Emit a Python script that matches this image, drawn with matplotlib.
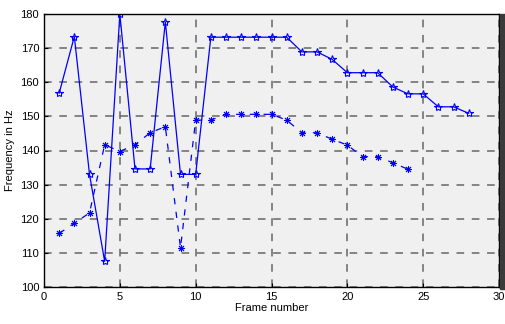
import numpy as np
import matplotlib.pyplot as plt
from matplotlib.patches import Rectangle

plt.rcParams['font.family'] = ['Liberation Sans', 'DejaVu Sans']

# pitch track for each frame
frames_a = np.arange(1, 29)
freq_a = [156.8, 173.4, 133.0, 107.5, 180.0, 134.6, 134.6, 177.7, 133.0, 133.0,
          173.2, 173.2, 173.2, 173.2, 173.2, 173.2, 168.9, 168.9, 166.7, 162.8,
          162.8, 162.8, 158.6, 156.6, 156.6, 152.8, 152.8, 150.9]

frames_b = np.arange(1, 25)
freq_b = [115.7, 118.7, 121.7, 141.7, 139.7, 141.7, 145.2, 147.0, 111.5, 148.9,
          148.9, 150.6, 150.6, 150.6, 150.6, 148.9, 145.2, 145.2, 143.3, 141.6,
          138.2, 138.2, 136.4, 134.5]

fig = plt.figure(figsize=(5.05, 3.24), dpi=100)
ax = fig.add_axes([44 / 505, 1 - 287 / 324, 455 / 505, 273 / 324])
ax.set_facecolor('#f0f0f0')

ax.plot(frames_a, freq_a, '-', color='blue', lw=0.9, marker='*',
        ms=6, mfc='none', mec='blue', mew=0.8)
ax.plot(frames_b, freq_b, '--', color='blue', lw=0.9, marker=(8, 2, 0),
        ms=5, mec='blue', mew=0.7, dashes=(5, 6))

ax.set_xlim(0, 30)
ax.set_ylim(100, 180)
ax.set_xticks(range(0, 31, 5))
ax.set_yticks(range(100, 181, 10))
ax.grid(True, color='#444444', ls=(0, (5, 5)), lw=1.1, alpha=0.8)
ax.tick_params(direction='in', length=3, labelsize=8, width=0.8)
for s in ax.spines.values():
    s.set_linewidth(1.0)

ax.set_xlabel('Frame number', fontsize=8, labelpad=1)
ax.set_ylabel('Frequency in Hz', fontsize=8, labelpad=4)

# dark strip along the right edge of the frame
fig.patches.append(Rectangle((500 / 505, 1 - 289 / 324), 5 / 505, 275 / 324,
                             transform=fig.transFigure, color='#3a3a3a'))

fig.savefig('out.png', dpi=100)
